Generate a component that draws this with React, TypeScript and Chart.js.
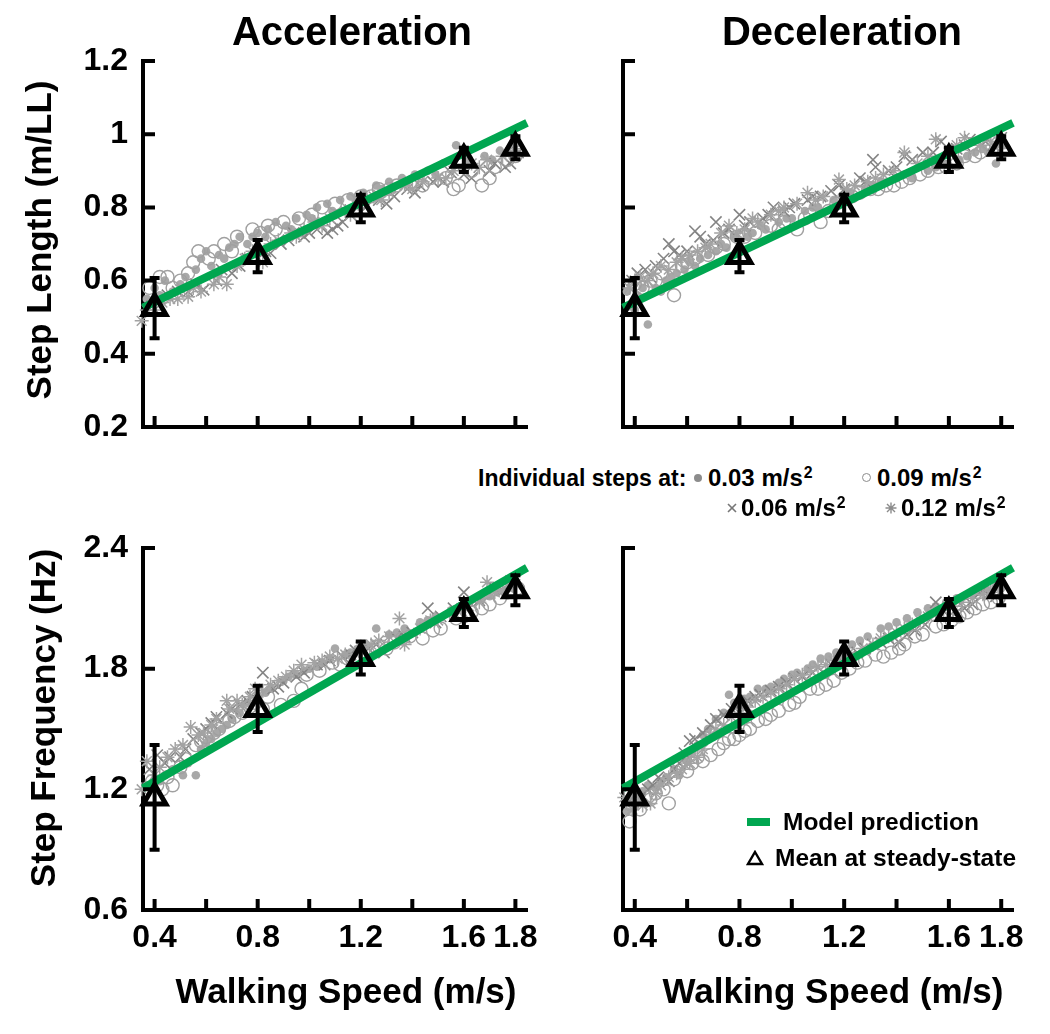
import React, { useEffect, useRef } from 'react';
import { Chart, registerables } from 'chart.js';

Chart.register(...registerables);

const FONT = '"Liberation Sans", Arial, Helvetica, sans-serif';

// ---------- axes ----------
const X_MIN = 0.355;
const X_MAX = 1.845;
const X_TICKS = [0.4, 0.6, 0.8, 1.0, 1.2, 1.4, 1.6, 1.8];
const X_LABELED = [0.4, 0.8, 1.2, 1.6, 1.8];
const LEN_TICKS = [0.2, 0.4, 0.6, 0.8, 1.0, 1.2];
const FREQ_TICKS = [0.6, 1.2, 1.8, 2.4];

// ---------- steady-state means (triangles) ----------
const MEAN_SPEEDS = [0.4, 0.8, 1.2, 1.6, 1.8];
const MEAN_LENGTH = [0.525, 0.667, 0.797, 0.93, 0.963];
const ERR_LENGTH = [0.085, 0.047, 0.04, 0.036, 0.034];
const MEAN_FREQ = [1.16, 1.6, 1.853, 2.077, 2.19];
const ERR_FREQ = [0.265, 0.12, 0.087, 0.075, 0.08];

// ---------- model prediction ----------
const MODEL_SPEED = [0.355, 1.845];
const MODEL_LENGTH = [0.526, 1.031];
const MODEL_FREQ = [1.205, 2.302];

// ---------- individual steps: Acceleration, step length ----------
const ACC_LEN_003 = [[0.37,0.55],[0.40,0.58],[0.44,0.60],[0.47,0.57],[0.52,0.61],[0.56,0.63],[0.58,0.66],[0.62,0.64],[0.65,0.67],[0.69,0.69],[0.73,0.72],[0.76,0.70],[0.80,0.73],[0.84,0.74],[0.87,0.76],[0.91,0.75],[0.95,0.77],[0.99,0.78],[1.03,0.80],[1.07,0.81],[1.12,0.82],[1.16,0.83],[1.21,0.84],[1.26,0.86],[1.31,0.87],[1.36,0.88],[1.41,0.89],[1.46,0.90],[1.52,0.92],[1.57,0.97],[1.62,0.93],[1.68,0.94],[1.74,0.955],[1.79,0.97],
  [0.42,0.56],[0.50,0.59],[0.60,0.68],[0.67,0.66],[0.71,0.70],[0.78,0.72],[0.83,0.72],[0.93,0.74],[1.01,0.77],[1.09,0.79],[1.18,0.82],[1.28,0.85],[1.38,0.87],[1.49,0.89],[1.60,0.91],[1.71,0.93],[1.77,0.95]];
const ACC_LEN_006 = [[0.39,0.53],[0.45,0.56],[0.53,0.57],[0.59,0.575],[0.64,0.60],[0.70,0.62],[0.76,0.66],[0.80,0.70],[0.85,0.675],[0.89,0.70],[0.94,0.73],[0.98,0.72],[1.03,0.74],[1.07,0.73],[1.11,0.75],[1.16,0.78],[1.22,0.80],[1.27,0.82],[1.33,0.83],[1.38,0.85],[1.43,0.86],[1.48,0.87],[1.55,0.895],[1.60,0.89],[1.66,0.91],[1.72,0.92],[1.78,0.92],[1.81,0.95],
  [0.42,0.55],[0.49,0.57],[0.56,0.59],[0.66,0.63],[0.73,0.64],[0.83,0.68],[0.92,0.71],[1.00,0.73],[1.09,0.74],[1.13,0.76],[1.20,0.79],[1.30,0.81],[1.41,0.84],[1.52,0.87],[1.63,0.88],[1.70,0.90],[1.76,0.91]];
const ACC_LEN_009 = [[0.38,0.58],[0.42,0.61],[0.45,0.61],[0.50,0.60],[0.55,0.65],[0.57,0.68],[0.61,0.66],[0.67,0.70],[0.72,0.72],[0.78,0.74],[0.84,0.75],[0.90,0.76],[0.96,0.77],[1.01,0.78],[1.05,0.80],[1.10,0.81],[1.15,0.82],[1.20,0.83],[1.27,0.85],[1.34,0.86],[1.40,0.87],[1.47,0.88],[1.53,0.88],[1.58,0.86],[1.63,0.90],[1.67,0.86],[1.72,0.91],[1.77,0.93],
  [0.47,0.58],[0.53,0.62],[0.63,0.68],[0.70,0.68],[0.81,0.73],[0.87,0.74],[1.24,0.83],[1.31,0.85],[1.44,0.86],[1.56,0.85],[1.70,0.88],[1.80,0.94]];
const ACC_LEN_012 = [[0.35,0.49],[0.37,0.52],[0.43,0.54],[0.49,0.55],[0.53,0.556],[0.58,0.57],[0.63,0.59],[0.68,0.59],[0.72,0.64],[0.78,0.68],[0.82,0.65],[0.88,0.71],[0.93,0.73],[0.98,0.74],[1.02,0.76],[1.08,0.77],[1.14,0.79],[1.19,0.81],[1.25,0.83],[1.31,0.84],[1.37,0.86],[1.44,0.87],[1.50,0.88],[1.56,0.90],[1.63,0.92],[1.69,0.93],[1.75,0.94],[1.80,0.96],
  [0.40,0.52],[0.46,0.55],[0.55,0.58],[0.65,0.61],[0.75,0.66],[0.85,0.70],[0.95,0.72],[1.05,0.75],[1.16,0.78],[1.28,0.82],[1.40,0.85],[1.53,0.88],[1.66,0.91],[1.78,0.95]];

// ---------- individual steps: Deceleration, step length ----------
const DEC_LEN_003 = [[0.37,0.57],[0.38,0.53],[0.41,0.56],[0.45,0.48],[0.48,0.58],[0.52,0.60],[0.56,0.62],[0.61,0.65],[0.65,0.66],[0.71,0.68],[0.75,0.69],[0.80,0.71],[0.85,0.73],[0.90,0.74],[0.95,0.76],[1.00,0.77],[1.05,0.79],[1.10,0.80],[1.16,0.82],[1.22,0.84],[1.28,0.85],[1.34,0.87],[1.40,0.88],[1.46,0.88],[1.52,0.90],[1.58,0.92],[1.64,0.93],[1.70,0.95],[1.75,0.95],[1.78,0.92],[1.81,0.97],
  [0.40,0.52],[0.43,0.58],[0.50,0.57],[0.54,0.61],[0.59,0.63],[0.63,0.64],[0.68,0.67],[0.73,0.70],[0.78,0.72],[0.83,0.72],[0.88,0.75],[0.98,0.77],[1.08,0.80],[1.19,0.83],[1.31,0.86],[1.43,0.89],[1.55,0.91],[1.67,0.94],[1.73,0.96]];
const DEC_LEN_006 = [[0.39,0.60],[0.44,0.63],[0.48,0.64],[0.51,0.66],[0.53,0.70],[0.57,0.67],[0.60,0.68],[0.63,0.735],[0.67,0.70],[0.70,0.71],[0.71,0.76],[0.76,0.74],[0.80,0.78],[0.84,0.76],[0.89,0.77],[0.93,0.80],[0.97,0.79],[1.01,0.81],[1.06,0.82],[1.11,0.83],[1.15,0.845],[1.20,0.85],[1.26,0.88],[1.31,0.93],[1.32,0.91],[1.37,0.90],[1.43,0.94],[1.50,0.95],[1.57,0.98],[1.63,0.96],[1.68,0.985],[1.74,0.98],[1.80,0.99],
  [0.41,0.62],[0.46,0.61],[0.55,0.68],[0.65,0.72],[0.74,0.73],[0.82,0.75],[0.91,0.78],[0.99,0.80],[1.08,0.83],[1.18,0.86],[1.28,0.87],[1.40,0.91],[1.46,0.93],[1.54,0.95],[1.66,0.97],[1.77,0.97]];
const DEC_LEN_009 = [[0.40,0.59],[0.46,0.60],[0.50,0.62],[0.55,0.56],[0.58,0.64],[0.63,0.66],[0.68,0.67],[0.74,0.70],[0.79,0.72],[0.86,0.73],[0.92,0.75],[0.97,0.76],[1.02,0.74],[1.07,0.78],[1.11,0.76],[1.17,0.81],[1.23,0.83],[1.30,0.85],[1.36,0.86],[1.39,0.86],[1.45,0.88],[1.52,0.90],[1.59,0.91],[1.66,0.94],[1.72,0.95],[1.78,0.96],
  [0.43,0.58],[0.48,0.60],[0.60,0.65],[0.71,0.69],[0.82,0.72],[0.95,0.74],[1.05,0.77],[1.14,0.79],[1.26,0.84],[1.33,0.85],[1.42,0.87],[1.49,0.89],[1.56,0.91],[1.63,0.92],[1.70,0.94],[1.81,0.96]];
const DEC_LEN_012 = [[0.38,0.58],[0.42,0.61],[0.47,0.62],[0.53,0.63],[0.58,0.66],[0.64,0.68],[0.69,0.70],[0.73,0.73],[0.76,0.75],[0.82,0.74],[0.87,0.76],[0.92,0.78],[0.97,0.80],[1.02,0.81],[1.06,0.84],[1.12,0.83],[1.18,0.876],[1.24,0.86],[1.29,0.87],[1.35,0.89],[1.43,0.95],[1.48,0.92],[1.55,0.986],[1.60,0.95],[1.66,0.99],[1.72,0.97],[1.79,0.98],
  [0.40,0.60],[0.45,0.60],[0.50,0.64],[0.56,0.65],[0.61,0.67],[0.67,0.69],[0.79,0.73],[0.85,0.77],[0.95,0.79],[1.09,0.82],[1.21,0.85],[1.32,0.88],[1.39,0.90],[1.52,0.94],[1.63,0.97],[1.76,0.98]];

// ---------- individual steps: Acceleration, step frequency ----------
const ACC_FREQ_003 = [[0.37,1.22],[0.40,1.25],[0.44,1.27],[0.47,1.30],[0.51,1.27],[0.56,1.27],[0.58,1.40],[0.62,1.45],[0.66,1.50],[0.70,1.55],[0.76,1.63],[0.80,1.66],[0.85,1.70],[0.90,1.74],[0.95,1.77],[1.00,1.80],[1.05,1.83],[1.10,1.90],[1.14,1.87],[1.19,1.90],[1.26,2.00],[1.31,1.97],[1.37,2.00],[1.43,2.03],[1.49,2.06],[1.55,2.09],[1.61,2.12],[1.67,2.15],[1.73,2.18],[1.79,2.20],
  [0.39,1.21],[0.42,1.24],[0.53,1.33],[0.60,1.43],[0.64,1.48],[0.68,1.52],[0.73,1.58],[0.83,1.68],[0.92,1.76],[0.98,1.79],[1.03,1.81],[1.08,1.85],[1.16,1.88],[1.22,1.92],[1.34,1.98],[1.46,2.04],[1.58,2.10],[1.70,2.16],[1.76,2.19]];
const ACC_FREQ_006 = [[0.38,1.30],[0.41,1.37],[0.46,1.36],[0.50,1.36],[0.55,1.45],[0.60,1.50],[0.64,1.56],[0.68,1.58],[0.73,1.62],[0.78,1.66],[0.82,1.78],[0.86,1.70],[0.90,1.73],[0.95,1.76],[1.03,1.82],[1.08,1.84],[1.13,1.86],[1.18,1.89],[1.23,1.90],[1.29,1.88],[1.34,1.95],[1.40,1.98],[1.46,2.10],[1.51,2.06],[1.56,2.10],[1.60,2.18],[1.66,2.14],[1.72,2.20],[1.78,2.22],
  [0.44,1.33],[0.52,1.40],[0.58,1.48],[0.62,1.53],[0.70,1.60],[0.76,1.64],[0.88,1.71],[0.98,1.78],[1.06,1.82],[1.16,1.87],[1.26,1.92],[1.37,1.96],[1.49,2.03],[1.63,2.12],[1.75,2.19]];
const ACC_FREQ_009 = [[0.39,1.24],[0.43,1.20],[0.47,1.22],[0.52,1.35],[0.56,1.42],[0.60,1.46],[0.65,1.50],[0.69,1.54],[0.74,1.58],[0.79,1.63],[0.84,1.66],[0.89,1.62],[0.94,1.64],[0.99,1.77],[1.04,1.79],[1.09,1.83],[1.15,1.85],[1.21,1.88],[1.27,1.91],[1.33,1.93],[1.39,1.96],[1.44,1.95],[1.51,2.00],[1.57,2.05],[1.63,2.08],[1.70,2.12],[1.77,2.18],[1.81,2.20],
  [0.41,1.22],[0.45,1.26],[0.50,1.31],[0.58,1.44],[0.63,1.48],[0.71,1.56],[0.77,1.61],[0.82,1.60],[0.97,1.70],[1.12,1.82],[1.18,1.84],[1.30,1.90],[1.36,1.95],[1.48,1.99],[1.60,2.06],[1.67,2.10],[1.74,2.15]];
const ACC_FREQ_012 = [[0.35,1.20],[0.37,1.34],[0.42,1.31],[0.48,1.40],[0.54,1.51],[0.59,1.48],[0.64,1.55],[0.68,1.64],[0.69,1.60],[0.74,1.62],[0.79,1.70],[0.85,1.72],[0.91,1.76],[0.97,1.82],[1.02,1.83],[1.08,1.86],[1.14,1.87],[1.20,1.91],[1.27,1.94],[1.35,2.05],[1.37,1.92],[1.43,2.00],[1.50,2.04],[1.56,2.08],[1.62,2.11],[1.69,2.23],[1.75,2.19],[1.80,2.22],
  [0.40,1.27],[0.45,1.36],[0.51,1.42],[0.57,1.47],[0.62,1.52],[0.72,1.64],[0.77,1.66],[0.82,1.69],[0.88,1.74],[0.94,1.79],[1.05,1.84],[1.11,1.85],[1.24,1.92],[1.31,1.96],[1.47,2.04],[1.59,2.10],[1.66,2.13],[1.72,2.18],[1.78,2.24]];

// ---------- individual steps: Deceleration, step frequency ----------
const DEC_FREQ_003 = [[0.37,1.09],[0.39,1.16],[0.43,1.19],[0.48,1.21],[0.52,1.26],[0.57,1.27],[0.62,1.38],[0.66,1.47],[0.71,1.55],[0.76,1.67],[0.80,1.62],[0.84,1.66],[0.87,1.70],[0.92,1.71],[0.97,1.75],[1.02,1.78],[1.06,1.80],[1.11,1.85],[1.17,1.88],[1.23,1.92],[1.29,1.96],[1.34,2.00],[1.40,2.03],[1.48,2.08],[1.55,2.11],[1.63,2.15],[1.69,2.17],[1.75,2.19],[1.80,2.20],
  [0.41,1.18],[0.45,1.22],[0.50,1.24],[0.55,1.30],[0.60,1.34],[0.64,1.42],[0.68,1.50],[0.74,1.58],[0.78,1.63],[0.82,1.65],[0.90,1.70],[0.95,1.73],[1.00,1.77],[1.08,1.82],[1.14,1.86],[1.20,1.90],[1.26,1.94],[1.37,2.01],[1.44,2.05],[1.52,2.10],[1.59,2.13],[1.66,2.16],[1.72,2.18],[1.78,2.21]];
const DEC_FREQ_006 = [[0.40,1.17],[0.45,1.20],[0.49,1.26],[0.53,1.24],[0.57,1.33],[0.61,1.44],[0.66,1.48],[0.71,1.55],[0.77,1.60],[0.83,1.64],[0.88,1.67],[0.92,1.69],[0.98,1.73],[1.04,1.76],[1.12,1.78],[1.18,1.84],[1.25,1.88],[1.31,1.92],[1.37,1.95],[1.41,1.93],[1.47,1.99],[1.55,2.13],[1.60,2.06],[1.66,2.10],[1.72,2.18],[1.78,2.16],
  [0.42,1.15],[0.47,1.22],[0.55,1.30],[0.59,1.38],[0.63,1.45],[0.69,1.52],[0.74,1.57],[0.80,1.62],[0.86,1.66],[0.95,1.71],[1.01,1.75],[1.08,1.78],[1.15,1.82],[1.22,1.86],[1.28,1.90],[1.34,1.93],[1.44,1.97],[1.51,2.02],[1.63,2.08],[1.69,2.12],[1.75,2.17]];
const DEC_FREQ_009 = [[0.38,1.04],[0.39,1.12],[0.44,1.16],[0.48,1.18],[0.53,1.13],[0.57,1.31],[0.60,1.29],[0.64,1.36],[0.66,1.34],[0.72,1.40],[0.76,1.45],[0.80,1.47],[0.84,1.50],[0.87,1.54],[0.92,1.57],[0.99,1.62],[1.03,1.66],[1.07,1.70],[1.13,1.72],[1.19,1.78],[1.25,1.83],[1.32,1.87],[1.38,1.88],[1.43,1.92],[1.47,1.96],[1.55,2.01],[1.61,2.04],[1.67,2.08],[1.73,2.12],[1.79,2.15],
  [0.42,1.10],[0.46,1.15],[0.51,1.20],[0.55,1.25],[0.62,1.33],[0.69,1.37],[0.74,1.43],[0.78,1.45],[0.82,1.49],[0.90,1.55],[0.95,1.59],[1.01,1.63],[1.10,1.70],[1.16,1.74],[1.22,1.80],[1.28,1.84],[1.35,1.86],[1.41,1.90],[1.50,1.97],[1.58,2.02],[1.64,2.06],[1.70,2.10],[1.76,2.13]];
const DEC_FREQ_012 = [[0.36,1.16],[0.41,1.14],[0.46,1.13],[0.50,1.22],[0.53,1.26],[0.58,1.30],[0.64,1.36],[0.69,1.47],[0.74,1.52],[0.80,1.58],[0.86,1.64],[0.92,1.68],[0.98,1.72],[1.04,1.77],[1.10,1.81],[1.16,1.84],[1.22,1.88],[1.27,1.90],[1.34,1.95],[1.40,1.98],[1.46,2.02],[1.52,2.06],[1.58,2.09],[1.65,2.13],[1.73,2.17],[1.79,2.21],
  [0.39,1.10],[0.43,1.12],[0.48,1.18],[0.56,1.28],[0.61,1.33],[0.66,1.40],[0.71,1.50],[0.77,1.56],[0.83,1.61],[0.89,1.66],[0.95,1.70],[1.01,1.75],[1.07,1.79],[1.13,1.82],[1.19,1.86],[1.31,1.92],[1.37,1.96],[1.43,2.00],[1.49,2.04],[1.55,2.07],[1.62,2.11],[1.69,2.15],[1.76,2.19]];

const GREEN = '#00a650';

type Pair = number[];
const toPts = (arr: Pair[]) => arr.map(([x, y]) => ({ x, y }));

type PanelProps = {
  left: number; top: number; width: number; height: number;
  padTop: number; padRight: number; yWidth: number; xHeight: number;
  yTicks: number[]; showX: boolean; showY: boolean;
  s003: Pair[]; s006: Pair[]; s009: Pair[]; s012: Pair[];
  model: number[]; mean: number[]; err: number[];
};

function Panel(p: PanelProps) {
  const ref = useRef<HTMLCanvasElement | null>(null);
  useEffect(() => {
    if (!ref.current) return;
    const tickFont = { family: FONT, size: 32, weight: 'bold' as const };

    const inwardTicks = {
      id: 'inwardTicks',
      afterDatasetsDraw(chart: any) {
        const { ctx, chartArea, scales } = chart;
        ctx.save();
        ctx.strokeStyle = '#000';
        ctx.lineWidth = 4;
        ctx.beginPath();
        scales.x.ticks.forEach((t: any) => {
          const px = scales.x.getPixelForValue(t.value);
          ctx.moveTo(px, chartArea.bottom);
          ctx.lineTo(px, chartArea.bottom - 11);
        });
        scales.y.ticks.forEach((t: any) => {
          const py = scales.y.getPixelForValue(t.value);
          ctx.moveTo(chartArea.left, py);
          ctx.lineTo(chartArea.left + 12, py);
        });
        ctx.stroke();
        ctx.restore();
      },
    };

    const errorBars = {
      id: 'errorBars',
      afterDatasetsDraw(chart: any) {
        const { ctx, scales } = chart;
        ctx.save();
        ctx.strokeStyle = '#000';
        ctx.lineWidth = 4;
        ctx.beginPath();
        MEAN_SPEEDS.forEach((s, i) => {
          const px = scales.x.getPixelForValue(s);
          const hi = scales.y.getPixelForValue(p.mean[i] + p.err[i]);
          const lo = scales.y.getPixelForValue(p.mean[i] - p.err[i]);
          ctx.moveTo(px, hi); ctx.lineTo(px, lo);
          ctx.moveTo(px - 5, hi + 1); ctx.lineTo(px + 5, hi + 1);
          ctx.moveTo(px - 5, lo - 1); ctx.lineTo(px + 5, lo - 1);
        });
        ctx.stroke();
        ctx.restore();
      },
    };

    const chart = new Chart(ref.current, {
      type: 'scatter',
      data: {
        datasets: [
          {
            label: 'Mean at steady-state',
            data: MEAN_SPEEDS.map((x, i) => ({ x, y: p.mean[i] })),
            pointStyle: 'triangle',
            pointRadius: 13,
            borderWidth: 5,
            borderColor: '#000',
            backgroundColor: 'rgba(0,0,0,0)',
            clip: false,
          } as any,
          {
            type: 'line',
            label: 'Model prediction',
            data: MODEL_SPEED.map((x, i) => ({ x, y: p.model[i] })),
            borderColor: GREEN,
            borderWidth: 8,
            pointRadius: 0,
            fill: false,
            clip: false,
          } as any,
          {
            label: '0.12 m/s2',
            data: toPts(p.s012),
            pointStyle: 'star',
            pointRadius: 7,
            borderWidth: 1.5,
            borderColor: '#a3a3a3',
            backgroundColor: 'rgba(0,0,0,0)',
            clip: false,
          } as any,
          {
            label: '0.09 m/s2',
            data: toPts(p.s009),
            pointStyle: 'circle',
            pointRadius: 6.5,
            borderWidth: 1.4,
            borderColor: '#a0a0a0',
            backgroundColor: 'rgba(0,0,0,0)',
            clip: false,
          } as any,
          {
            label: '0.06 m/s2',
            data: toPts(p.s006),
            pointStyle: 'crossRot',
            pointRadius: 8,
            borderWidth: 1.6,
            borderColor: '#848484',
            backgroundColor: 'rgba(0,0,0,0)',
            clip: false,
          } as any,
          {
            label: '0.03 m/s2',
            data: toPts(p.s003),
            pointStyle: 'circle',
            pointRadius: 4.3,
            borderWidth: 0,
            borderColor: '#a8a8a8',
            backgroundColor: '#a8a8a8',
            clip: false,
          } as any,
        ],
      },
      options: {
        animation: false,
        responsive: false,
        maintainAspectRatio: false,
        events: [],
        layout: { padding: { top: p.padTop, right: p.padRight, left: 0, bottom: 0 } },
        plugins: { legend: { display: false }, tooltip: { enabled: false }, title: { display: false } },
        scales: {
          x: {
            type: 'linear',
            min: X_MIN,
            max: X_MAX,
            afterBuildTicks: (s: any) => { s.ticks = X_TICKS.map((v) => ({ value: v })); },
            afterFit: (s: any) => { s.height = p.xHeight; s.paddingLeft = 0; s.paddingRight = 0; },
            grid: { display: false, drawTicks: false },
            border: { display: true, color: '#000', width: 4 },
            ticks: {
              display: p.showX,
              autoSkip: false,
              maxRotation: 0,
              padding: 9,
              color: '#000',
              font: tickFont,
              callback: (v: any) => (X_LABELED.includes(v) ? String(v) : ''),
            },
          },
          y: {
            type: 'linear',
            min: p.yTicks[0],
            max: p.yTicks[p.yTicks.length - 1],
            afterBuildTicks: (s: any) => { s.ticks = p.yTicks.map((v) => ({ value: v })); },
            afterFit: (s: any) => { s.width = p.yWidth; s.paddingTop = 0; s.paddingBottom = 0; },
            grid: { display: false, drawTicks: false },
            border: { display: true, color: '#000', width: 4 },
            ticks: {
              display: p.showY,
              padding: 15,
              color: '#000',
              font: tickFont,
              callback: (v: any) => String(v),
            },
          },
        },
      } as any,
      plugins: [inwardTicks, errorBars],
    });
    return () => chart.destroy();
  }, []);
  return (
    <canvas
      ref={ref}
      width={p.width}
      height={p.height}
      style={{ position: 'absolute', left: p.left, top: p.top, width: p.width, height: p.height }}
    />
  );
}

function Text(props: { x: number; y: number; size: number; rotate?: boolean; children: any; align?: 'left' | 'center' }) {
  const { x, y, size, rotate, children, align = 'center' } = props;
  const tx = align === 'center' ? '-50%' : '0';
  return (
    <div
      style={{
        position: 'absolute',
        left: x,
        top: y,
        transform: `translate(${tx}, -50%)${rotate ? ' rotate(-90deg)' : ''}`,
        transformOrigin: align === 'center' ? 'center' : 'left center',
        fontSize: size,
        lineHeight: 1,
        whiteSpace: 'nowrap',
        fontWeight: 'bold',
      }}
    >
      {children}
    </div>
  );
}

const Unit = ({ v }: { v: string }) => (
  <span>
    {v} m/s<sup style={{ fontSize: '0.66em', verticalAlign: '0.5em', lineHeight: 0, marginLeft: 1 }}>2</sup>
  </span>
);

export default function App() {
  return (
    <div
      style={{
        position: 'absolute', left: 0, top: 0, width: 1050, height: 1034,
        background: '#fff', fontFamily: FONT, color: '#000', overflow: 'hidden',
      }}
    >
      <Panel left={0} top={40} width={545} height={420} padTop={21} padRight={15} yWidth={143} xHeight={33}
        yTicks={LEN_TICKS} showX={false} showY={true}
        s003={ACC_LEN_003} s006={ACC_LEN_006} s009={ACC_LEN_009} s012={ACC_LEN_012}
        model={MODEL_LENGTH} mean={MEAN_LENGTH} err={ERR_LENGTH} />
      <Panel left={545} top={40} width={500} height={420} padTop={21} padRight={32} yWidth={78} xHeight={33}
        yTicks={LEN_TICKS} showX={false} showY={false}
        s003={DEC_LEN_003} s006={DEC_LEN_006} s009={DEC_LEN_009} s012={DEC_LEN_012}
        model={MODEL_LENGTH} mean={MEAN_LENGTH} err={ERR_LENGTH} />
      <Panel left={0} top={520} width={545} height={460} padTop={28} padRight={15} yWidth={143} xHeight={70}
        yTicks={FREQ_TICKS} showX={true} showY={true}
        s003={ACC_FREQ_003} s006={ACC_FREQ_006} s009={ACC_FREQ_009} s012={ACC_FREQ_012}
        model={MODEL_FREQ} mean={MEAN_FREQ} err={ERR_FREQ} />
      <Panel left={545} top={520} width={500} height={460} padTop={28} padRight={32} yWidth={78} xHeight={70}
        yTicks={FREQ_TICKS} showX={true} showY={false}
        s003={DEC_FREQ_003} s006={DEC_FREQ_006} s009={DEC_FREQ_009} s012={DEC_FREQ_012}
        model={MODEL_FREQ} mean={MEAN_FREQ} err={ERR_FREQ} />

      <Text x={352} y={31} size={40}>Acceleration</Text>
      <Text x={842} y={31} size={40}>Deceleration</Text>
      <Text x={38} y={240} size={35} rotate>Step Length (m/LL)</Text>
      <Text x={42} y={718} size={35} rotate>Step Frequency (Hz)</Text>
      <Text x={346} y={990} size={35}>Walking Speed (m/s)</Text>
      <Text x={833} y={990} size={35}>Walking Speed (m/s)</Text>

      {/* Individual steps legend */}
      <Text x={478} y={478} size={23} align="left">Individual steps at:</Text>
      <div style={{ position: 'absolute', left: 694, top: 474, width: 8, height: 8, borderRadius: 4, background: '#8c8c8c' }} />
      <Text x={708} y={478} size={24} align="left"><Unit v="0.03" /></Text>
      <div style={{ position: 'absolute', left: 862, top: 473, width: 7, height: 7, borderRadius: 5, border: '1.5px solid #8c8c8c' }} />
      <Text x={877} y={478} size={24} align="left"><Unit v="0.09" /></Text>
      <svg style={{ position: 'absolute', left: 727, top: 503 }} width={10} height={10}>
        <path d="M1 1 L9 9 M9 1 L1 9" stroke="#777" strokeWidth={1.6} />
      </svg>
      <Text x={741} y={508} size={24} align="left"><Unit v="0.06" /></Text>
      <svg style={{ position: 'absolute', left: 885, top: 502 }} width={12} height={12}>
        <path d="M6 0.5 L6 11.5 M0.5 6 L11.5 6 M2 2 L10 10 M10 2 L2 10" stroke="#8c8c8c" strokeWidth={1.4} />
      </svg>
      <Text x={901} y={508} size={24} align="left"><Unit v="0.12" /></Text>

      {/* Model / mean legend */}
      <div style={{ position: 'absolute', left: 747, top: 818, width: 23, height: 8, background: GREEN }} />
      <Text x={783} y={822} size={24.5} align="left">Model prediction</Text>
      <svg style={{ position: 'absolute', left: 746, top: 850 }} width={18} height={16}>
        <polygon points="9,2 16,14 2,14" fill="none" stroke="#000" strokeWidth={2.4} />
      </svg>
      <Text x={775} y={858} size={24.5} align="left">Mean at steady-state</Text>
    </div>
  );
}
